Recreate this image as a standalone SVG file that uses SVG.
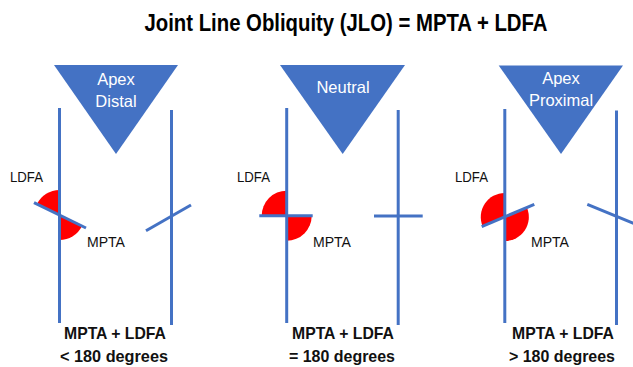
<svg xmlns="http://www.w3.org/2000/svg" width="633" height="367" viewBox="0 0 633 367">
<style>
.tri{fill:#4472C4}
.bone{stroke:#4472C4;stroke-width:3;fill:none}
.ang{fill:#FF0000}
.tt{font-family:"Liberation Sans",Arial,sans-serif;font-size:16.5px;fill:#FFFFFF;text-anchor:middle}
.lb{font-family:"Liberation Sans",Arial,sans-serif;font-size:14px;fill:#111111}
.cap{font-family:"Liberation Sans",Arial,sans-serif;font-size:17px;font-weight:bold;fill:#111111;text-anchor:middle}
.title{font-family:"Liberation Sans",Arial,sans-serif;font-size:23px;font-weight:bold;fill:#000000;text-anchor:middle}
</style>
<rect width="633" height="367" fill="#FFFFFF"/>
<text class="title" x="346" y="31" textLength="403" lengthAdjust="spacingAndGlyphs">Joint Line Obliquity (JLO) = MPTA + LDFA</text>

<g id="panel-apex-distal">
  <polygon class="tri" points="54,65 178,65 116,154"/>
  <text class="tt" x="116" y="85">Apex</text>
  <text class="tt" x="116" y="107">Distal</text>
  <path class="ang" d="M59.5,215 L59.5,190 A25,25 0 0 0 37,204.1 Z"/>
  <path class="ang" d="M59.5,215 L59.5,240 A25,25 0 0 0 82,225.9 Z"/>
  <line class="bone" x1="59.5" y1="108" x2="59.5" y2="323"/>
  <line class="bone" x1="34" y1="202.7" x2="86" y2="228"/>
  <line class="bone" x1="171.5" y1="110" x2="171.5" y2="325"/>
  <line class="bone" x1="146" y1="230.7" x2="191" y2="205"/>
  <text class="lb" x="10" y="182" textLength="33" lengthAdjust="spacingAndGlyphs">LDFA</text>
  <text class="lb" x="87" y="247" textLength="38" lengthAdjust="spacingAndGlyphs">MPTA</text>
  <text class="cap" x="115" y="339" textLength="102" lengthAdjust="spacingAndGlyphs">MPTA + LDFA</text>
  <text class="cap" x="114" y="362" textLength="108" lengthAdjust="spacingAndGlyphs">&lt; 180 degrees</text>
</g>

<g id="panel-neutral">
  <polygon class="tri" points="280,65 405,65 342.7,154"/>
  <text class="tt" x="343" y="93">Neutral</text>
  <path class="ang" d="M286.7,215.7 L286.7,190.7 A25,25 0 0 0 261.7,215.7 Z"/>
  <path class="ang" d="M286.7,215.7 L286.7,240.7 A25,25 0 0 0 311.7,215.7 Z"/>
  <line class="bone" x1="286.7" y1="108" x2="286.7" y2="323"/>
  <line class="bone" x1="259.3" y1="215.7" x2="312.7" y2="215.7"/>
  <line class="bone" x1="398.2" y1="110" x2="398.2" y2="325"/>
  <line class="bone" x1="374" y1="216" x2="422.7" y2="216"/>
  <text class="lb" x="237" y="182" textLength="33" lengthAdjust="spacingAndGlyphs">LDFA</text>
  <text class="lb" x="313" y="247" textLength="38" lengthAdjust="spacingAndGlyphs">MPTA</text>
  <text class="cap" x="343" y="339" textLength="102" lengthAdjust="spacingAndGlyphs">MPTA + LDFA</text>
  <text class="cap" x="342" y="362" textLength="106" lengthAdjust="spacingAndGlyphs">= 180 degrees</text>
</g>

<g id="panel-apex-proximal">
  <polygon class="tri" points="498.7,65.5 623,65.5 561,154"/>
  <text class="tt" x="561" y="84">Apex</text>
  <text class="tt" x="561" y="106">Proximal</text>
  <path class="ang" d="M504.8,217 L504.8,193 A24,24 0 0 0 482.7,226.4 Z"/>
  <path class="ang" d="M504.8,217 L504.8,241 A24,24 0 0 0 526.9,207.6 Z"/>
  <line class="bone" x1="504.8" y1="109" x2="504.8" y2="323"/>
  <line class="bone" x1="481.7" y1="226.7" x2="534.3" y2="204.3"/>
  <line class="bone" x1="616.5" y1="110.5" x2="616.5" y2="325"/>
  <line class="bone" x1="587.3" y1="204.3" x2="636" y2="224.3"/>
  <text class="lb" x="455" y="182" textLength="33" lengthAdjust="spacingAndGlyphs">LDFA</text>
  <text class="lb" x="531" y="247" textLength="38" lengthAdjust="spacingAndGlyphs">MPTA</text>
  <text class="cap" x="563" y="339" textLength="102" lengthAdjust="spacingAndGlyphs">MPTA + LDFA</text>
  <text class="cap" x="562" y="362" textLength="106" lengthAdjust="spacingAndGlyphs">&gt; 180 degrees</text>
</g>
</svg>
